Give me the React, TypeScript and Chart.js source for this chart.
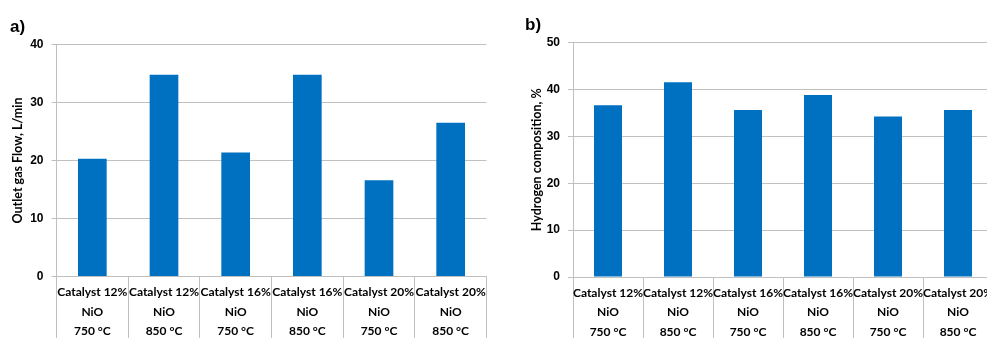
import React, { useEffect, useRef } from "react";
import { Chart, registerables } from "chart.js";

Chart.register(...registerables);

const categories: string[][] = [
  ["Catalyst 12%", "NiO", "750 °C"],
  ["Catalyst 12%", "NiO", "850 °C"],
  ["Catalyst 16%", "NiO", "750 °C"],
  ["Catalyst 16%", "NiO", "850 °C"],
  ["Catalyst 20%", "NiO", "750 °C"],
  ["Catalyst 20%", "NiO", "850 °C"],
];
const outletGasFlow = [20.3, 34.8, 21.4, 34.8, 16.6, 26.5];
const hydrogenComposition = [36.6, 41.5, 35.6, 38.8, 34.2, 35.6];
const flowTicks = [0, 10, 20, 30, 40];
const hydrogenTicks = [0, 10, 20, 30, 40, 50];
const flowTitle = "Outlet gas Flow, L/min";
const hydrogenTitle = "Hydrogen composition, %";

const BAR = "#0070c0";
const GRID = "#c0c0c0";

type Cfg = {
  values: number[];
  ticks: number[];
  title: string;
  yWidth: number;
  xHeight: number;
  padTop: number;
  padRight: number;
  titlePad: number;
};

function makeChart(canvas: HTMLCanvasElement, c: Cfg) {
  const max = c.ticks[c.ticks.length - 1];
  return new Chart(canvas, {
    type: "bar",
    data: {
      labels: categories,
      datasets: [
        {
          data: c.values,
          backgroundColor: BAR,
          borderWidth: 0,
          categoryPercentage: 1,
          barPercentage: 0.4,
        },
      ],
    },
    options: {
      animation: false,
      responsive: false,
      maintainAspectRatio: false,
      layout: { padding: { top: c.padTop, right: c.padRight, left: 0, bottom: 0 } },
      plugins: { legend: { display: false }, tooltip: { enabled: false }, title: { display: false } },
      scales: {
        x: {
          type: "category",
          offset: true,
          grid: {
            offset: true,
            drawOnChartArea: false,
            tickLength: 62,
            color: GRID,
            lineWidth: 1,
          },
          border: { display: true, color: GRID, width: 1 },
          ticks: {
            autoSkip: false,
            maxRotation: 0,
            minRotation: 0,
            padding: -55.75,
            color: "#000",
            font: { family: "Lato", weight: "bold", size: 12, lineHeight: "19.5px" },
          },
          afterFit: (s: any) => {
            s.height = c.xHeight;
          },
        },
        y: {
          type: "linear",
          min: 0,
          max,
          afterBuildTicks: (s: any) => {
            s.ticks = c.ticks.map((v) => ({ value: v }));
          },
          grid: { color: GRID, tickLength: 5, lineWidth: 1 },
          border: { display: true, color: GRID, width: 1 },
          ticks: {
            padding: 8,
            color: "#000",
            font: { family: "Liberation Sans", weight: "bold", size: 12 },
          },
          title: {
            display: true,
            text: c.title,
            color: "#000",
            font: { family: "Lato", weight: "bold", size: 12.5 },
            padding: { top: c.titlePad, bottom: 0 },
          },
          afterFit: (s: any) => {
            s.width = c.yWidth;
          },
        },
      },
    },
  } as any);
}

function Panel(props: { cfg: Cfg; left: number; label: string; labelLeft: number; labelTop: number }) {
  const ref = useRef<HTMLCanvasElement>(null);
  useEffect(() => {
    const chart = makeChart(ref.current!, props.cfg);
    return () => chart.destroy();
  }, []);
  return (
    <>
      <canvas
        ref={ref}
        width={500}
        height={338}
        style={{ position: "absolute", left: props.left, top: 0, width: 500, height: 338 }}
      />
      <div
        style={{
          position: "absolute",
          left: props.labelLeft,
          top: props.labelTop,
          font: "bold 17px 'Liberation Sans', Arial, sans-serif",
          color: "#000",
          lineHeight: "20px",
        }}
      >
        {props.label}
      </div>
    </>
  );
}

export default function App() {
  useEffect(() => {
    document.body.style.margin = "0";
  }, []);
  const a: Cfg = {
    values: outletGasFlow,
    ticks: flowTicks,
    title: flowTitle,
    yWidth: 56.5,
    xHeight: 61.5,
    padTop: 44.5,
    padRight: 13.5,
    titlePad: 10,
  };
  const b: Cfg = {
    values: hydrogenComposition,
    ticks: hydrogenTicks,
    title: hydrogenTitle,
    yWidth: 73,
    xHeight: 61,
    padTop: 42.5,
    padRight: 7,
    titlePad: 29,
  };
  return (
    <div style={{ position: "relative", width: 987, height: 338, overflow: "hidden", background: "#fff" }}>
      <Panel cfg={a} left={0} label="a)" labelLeft={10} labelTop={17} />
      <Panel cfg={b} left={500} label="b)" labelLeft={525} labelTop={15} />
    </div>
  );
}
